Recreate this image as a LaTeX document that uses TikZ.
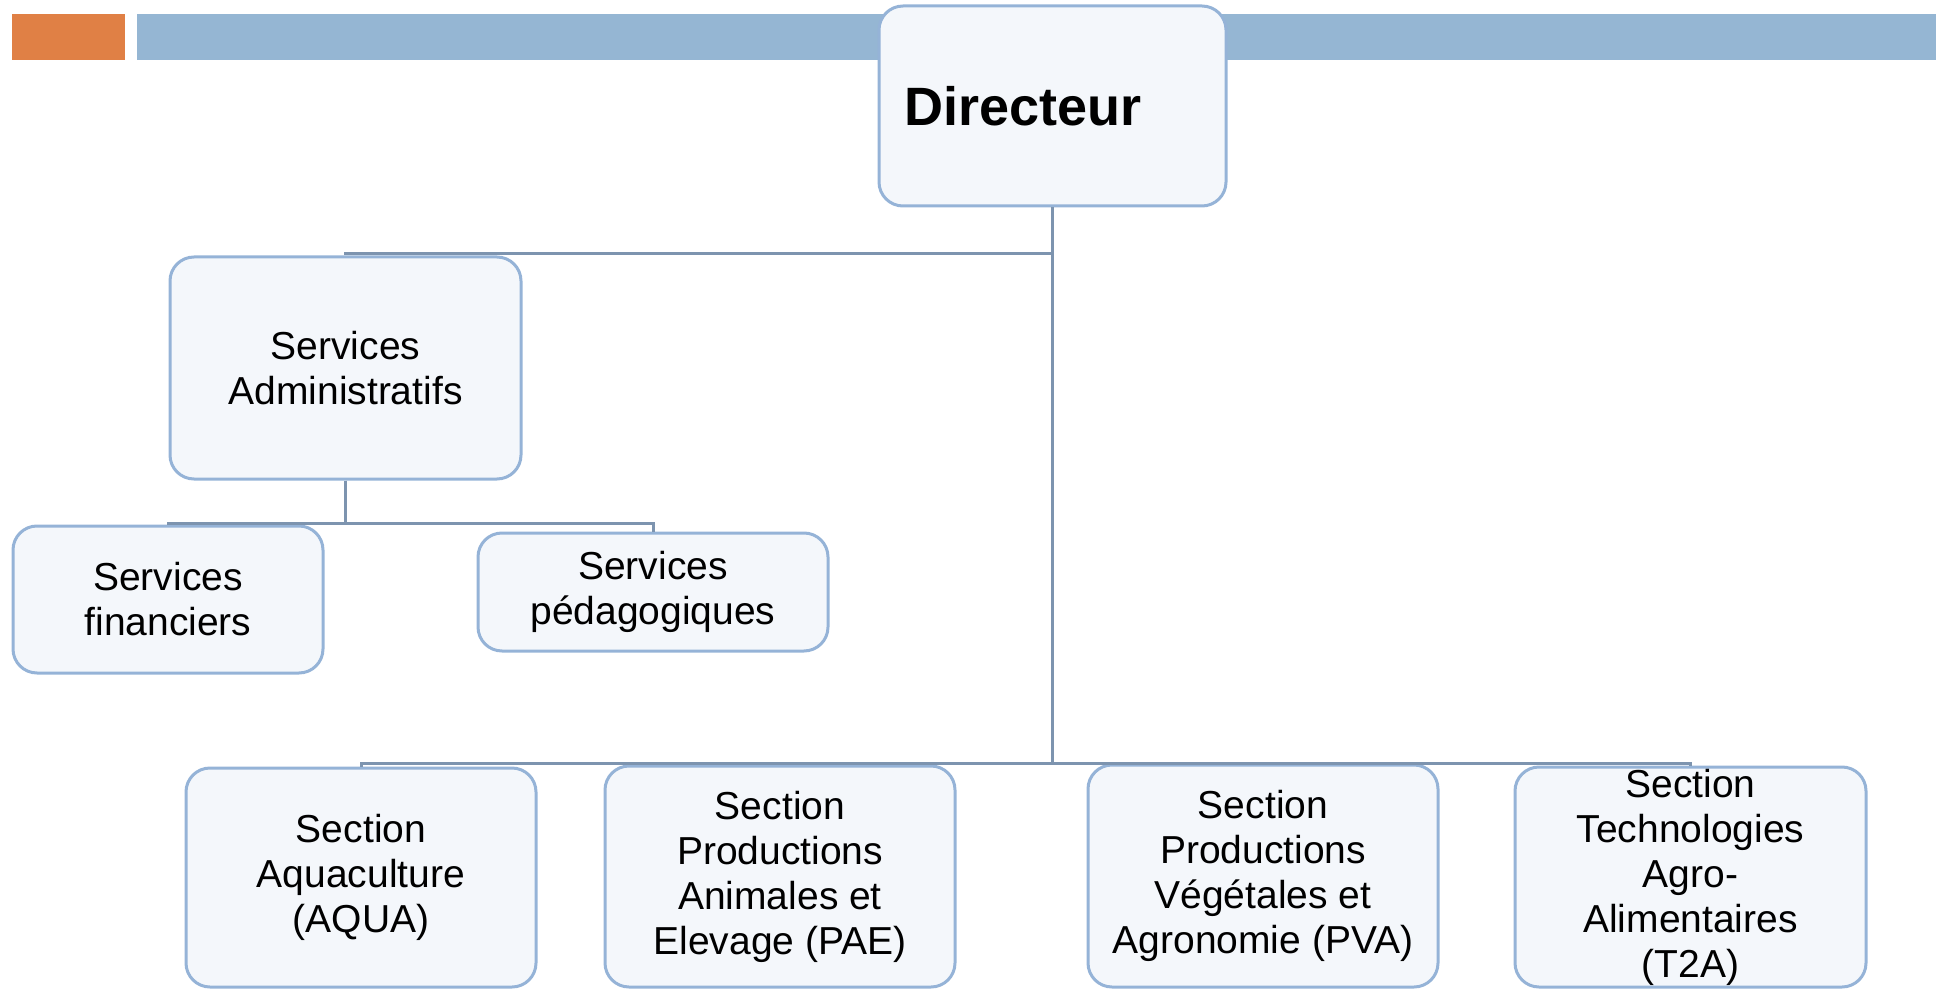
\documentclass[tikz,border=0pt]{standalone}
\usepackage{fontspec}
\setmainfont{Liberation Sans}
\definecolor{boxfill}{RGB}{244,247,251}
\definecolor{boxline}{RGB}{149,179,215}
\definecolor{connclr}{RGB}{125,148,175}
\definecolor{barorange}{RGB}{224,128,69}
\definecolor{barblue}{RGB}{149,182,211}
\begin{document}
\begin{tikzpicture}[x=0.5pt,y=-0.5pt,
  orgbox/.style={draw=boxline, line width=1.5pt, fill=boxfill, rounded corners=12pt,
    align=center, inner sep=0pt, font=\fontsize{19.5}{22.5}\selectfont},
  conn/.style={draw=connclr, line width=1.5pt}]
\useasboundingbox (0,0) rectangle (1936,989);
% top bar
\fill[barorange] (12,14) rectangle (125,60);
\fill[barblue] (137,14) rectangle (1936,60);
% bus coordinates
\coordinate (busA) at (0,254);
\coordinate (busB) at (0,763);
\coordinate (busC) at (0,523);
% nodes
\node[orgbox, minimum width=173.5pt, minimum height=100pt, text width=148.5pt, align=left,
  font=\fontsize{27}{30}\selectfont\bfseries] (dir) at (1052.5,106) {Directeur};
\node[orgbox, minimum width=175.5pt, minimum height=111pt] (sa) at (345.5,368) {Services\\Administratifs};
\node[orgbox, minimum width=155pt, minimum height=73.5pt] (sf) at (168,599.5) {Services\\financiers};
\node[orgbox, minimum width=175pt, minimum height=59pt] (sp) at (653,592) {Services\\pédagogiques};
\node[orgbox, minimum width=175pt, minimum height=109.5pt] (aqua) at (361,877.5) {Section\\Aquaculture\\(AQUA)};
\node[orgbox, minimum width=175pt, minimum height=110.5pt] (pae) at (780,876.5) {Section\\Productions\\Animales et\\Elevage (PAE)};
\node[orgbox, minimum width=175pt, minimum height=111pt] (pva) at (1263,876) {Section\\Productions\\Végétales et\\Agronomie (PVA)};
\node[orgbox, minimum width=175.5pt, minimum height=110pt] (t2a) at (1690.5,877) {Section\\Technologies\\Agro-\\Alimentaires\\(T2A)};
% connectors
\draw[conn] (dir.south) -- (dir.south |- busA) -| (sa.north);
\draw[conn] (dir.south) -- (dir.south |- busB) -| (aqua.north);
\draw[conn] (dir.south) -- (dir.south |- busB) -| (pae.north);
\draw[conn] (dir.south) -- (dir.south |- busB) -| (pva.north);
\draw[conn] (dir.south) -- (dir.south |- busB) -| (t2a.north);
\draw[conn] (sa.south) -- (sa.south |- busC) -| (sf.north);
\draw[conn] (sa.south) -- (sa.south |- busC) -| (sp.north);
\end{tikzpicture}
\end{document}
